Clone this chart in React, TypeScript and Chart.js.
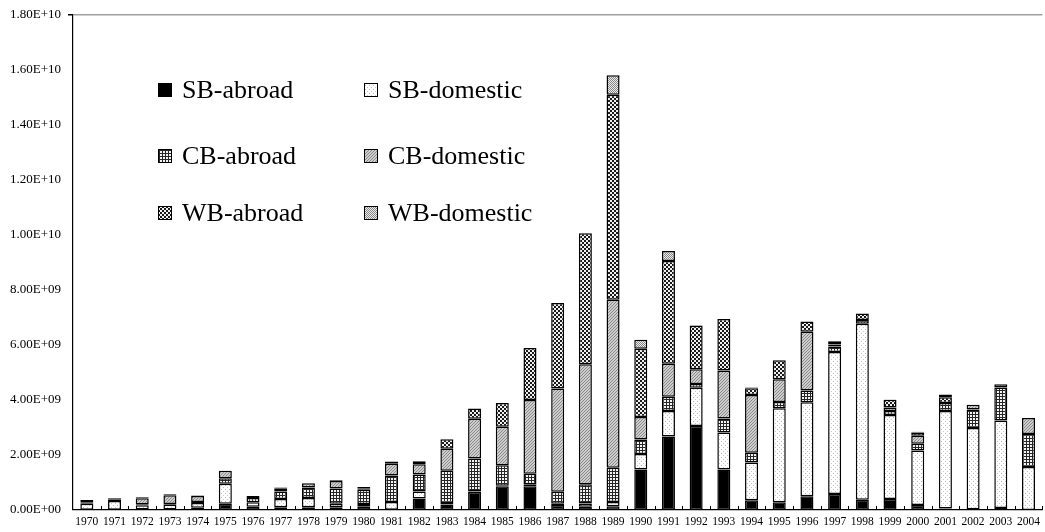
import React, { useEffect, useRef } from "react";
import { Chart, registerables } from "chart.js";
Chart.register(...registerables);

// Values in billions (1E+09)
const years = ["1970","1971","1972","1973","1974","1975","1976","1977","1978","1979","1980","1981","1982","1983","1984","1985","1986","1987","1988","1989","1990","1991","1992","1993","1994","1995","1996","1997","1998","1999","2000","2001","2002","2003","2004"];
const sbAbroad = [0.01,0.01,0.02,0.02,0.08,0.23,0.12,0.1,0.1,0.1,0.12,0.01,0.42,0.2,0.65,0.86,0.86,0.18,0.12,0.14,1.47,2.67,3.05,1.47,0.35,0.28,0.5,0.58,0.37,0.4,0.18,0.05,0.03,0.07,0];
const sbDomestic = [0.22,0.32,0.15,0.17,0.17,0.72,0.16,0.3,0.34,0.13,0.1,0.28,0.25,0.05,0.02,0.02,0.08,0.05,0.12,0.15,0.57,0.93,1.39,1.35,1.38,3.42,3.42,5.16,6.4,3.05,1.98,3.55,2.95,3.18,1.56];
const cbAbroad = [0.05,0.06,0.04,0.03,0.04,0.2,0.16,0.27,0.38,0.55,0.52,0.96,0.62,1.18,1.2,0.75,0.38,0.43,0.7,1.25,0.52,0.52,0.14,0.51,0.35,0.23,0.42,0.2,0.14,0.15,0.25,0.29,0.67,1.2,1.2];
const cbDomestic = [0.08,0.04,0.22,0.32,0.22,0.28,0.07,0.1,0.15,0.27,0.05,0.43,0.37,0.8,1.45,1.4,2.68,3.76,4.36,6.1,0.82,1.2,0.54,1.74,2.1,0.82,2.14,0.08,0,0.13,0.29,0,0.18,0.12,0.58];
const wbAbroad = [0,0,0.03,0.03,0.02,0,0,0.05,0,0.03,0.05,0.08,0.11,0.34,0.37,0.86,1.89,3.1,4.76,7.45,2.48,3.73,1.58,1.87,0.25,0.69,0.37,0.1,0.23,0.28,0.12,0.21,0,0,0];
const wbDomestic = [0,0,0,0,0,0,0,0,0,0,0,0,0,0,0,0,0,0,0,0.71,0.33,0.36,0.02,0,0.02,0,0,0.02,0,0.01,0.02,0.1,0,0,0];
const seriesLabels = ["SB-abroad","SB-domestic","CB-abroad","CB-domestic","WB-abroad","WB-domestic"];
const yMax = 18;
const yStep = 2;

function fmtSci(v: number): string {
  if (v === 0) return "0.00E+00";
  const s = v.toExponential(2).toUpperCase();
  const [m, e] = s.split("E");
  const sign = e[0] === "-" ? "-" : "+";
  const digits = e.replace(/[+-]/, "").padStart(2, "0");
  return `${m}E${sign}${digits}`;
}

function makePattern(kind: string): CanvasPattern | string {
  if (kind === "solid") return "#000000";
  const c = document.createElement("canvas");
  const g = c.getContext("2d")!;
  const px = (x: number, y: number, col: string) => { g.fillStyle = col; g.fillRect(x, y, 1, 1); };
  if (kind === "dots") {
    c.width = 4; c.height = 4;
    g.fillStyle = "#ffffff"; g.fillRect(0, 0, 4, 4);
    px(1, 1, "#b8b8b8"); px(3, 3, "#c8c8c8");
  } else if (kind === "grid") {
    c.width = 3; c.height = 3;
    g.fillStyle = "#f4f4f4"; g.fillRect(0, 0, 3, 3);
    g.fillStyle = "#262626"; g.fillRect(0, 0, 3, 1); g.fillRect(0, 0, 1, 3);
  } else if (kind === "diag") {
    c.width = 3; c.height = 3;
    g.fillStyle = "#cdcdcd"; g.fillRect(0, 0, 3, 3);
    for (let i = 0; i < 3; i++) px(i, 2 - i, "#8a8a8a");
  } else if (kind === "checkDark") {
    c.width = 4; c.height = 4;
    g.fillStyle = "#f0f0f0"; g.fillRect(0, 0, 4, 4);
    g.fillStyle = "#1a1a1a"; g.fillRect(0, 0, 2, 2); g.fillRect(2, 2, 2, 2);
  } else {
    c.width = 2; c.height = 2;
    g.fillStyle = "#ececec"; g.fillRect(0, 0, 2, 2);
    px(0, 0, "#868686"); px(1, 1, "#868686");
  }
  return g.createPattern(c, "repeat")!;
}

export default function App() {
  const ref = useRef<HTMLCanvasElement | null>(null);
  useEffect(() => {
    document.body.style.margin = "0";
    const kinds = ["solid", "dots", "grid", "diag", "checkDark", "checkLight"];
    const fills = kinds.map(makePattern);
    const series = [sbAbroad, sbDomestic, cbAbroad, cbDomestic, wbAbroad, wbDomestic];
    const datasets = series.map((arr, i) => ({
      label: seriesLabels[i],
      data: arr.map((v) => (v === 0 ? null : v)),
      backgroundColor: fills[i] as any,
      borderColor: "#000000",
      borderWidth: 1.5,
      borderSkipped: false as any,
      barPercentage: 0.47,
      categoryPercentage: 1,
    }));

    const legendPlugin = {
      id: "customLegend",
      afterDraw(chart: any) {
        const ctx = chart.ctx;
        ctx.save();
        const cols = [158, 364];
        const rows = [90, 156, 213];
        seriesLabels.forEach((lab, i) => {
          const x = cols[i % 2];
          const y = rows[Math.floor(i / 2)];
          ctx.fillStyle = fills[i];
          ctx.fillRect(x, y - 7, 14, 14);
          ctx.strokeStyle = "#000";
          ctx.lineWidth = 1;
          ctx.strokeRect(x + 0.5, y - 6.5, 13, 13);
          ctx.fillStyle = "#000";
          ctx.font = "26px 'Liberation Serif'";
          ctx.textBaseline = "middle";
          ctx.textAlign = "left";
          ctx.fillText(lab, x + 24, y + 1);
        });
        // inner x-axis tick marks between categories
        const xs = chart.scales.x;
        const area = chart.chartArea;
        const w = xs.getPixelForValue(1) - xs.getPixelForValue(0);
        ctx.strokeStyle = "#000";
        ctx.lineWidth = 1;
        ctx.beginPath();
        for (let i = 1; i <= years.length; i++) {
          const x = Math.round(xs.getPixelForValue(i - 1) + w / 2) + 0.5;
          ctx.moveTo(x, area.bottom);
          ctx.lineTo(x, area.bottom - 4);
        }
        ctx.stroke();
        ctx.restore();
      },
    };

    const chart = new Chart(ref.current!, {
      type: "bar",
      data: { labels: years, datasets },
      options: {
        animation: false,
        responsive: true,
        maintainAspectRatio: false,
        layout: { padding: { top: 14, right: 0, left: 0, bottom: 0 } },
        plugins: { legend: { display: false }, tooltip: { enabled: false } },
        scales: {
          x: {
            stacked: true,
            offset: true,
            grid: { display: false, drawTicks: false },
            border: { display: true, color: "#000", width: 1.2 },
            ticks: {
              color: "#000",
              font: { family: "'Liberation Serif'", size: 11.5 },
              maxRotation: 0,
              autoSkip: false,
              padding: 5,
            },
            afterFit: (s: any) => { s.height = 22; },
          },
          y: {
            stacked: true,
            min: 0,
            max: yMax,
            ticks: {
              stepSize: yStep,
              color: "#000",
              font: { family: "'Liberation Serif'", size: 13 },
              padding: 7,
              callback: (v: any) => fmtSci(Number(v) * 1e9),
            },
            grid: {
              drawOnChartArea: true,
              tickLength: 5,
              tickColor: "#000",
              color: (c: any) => (c.tick && c.tick.value === yMax ? "#a0a0a0" : "rgba(0,0,0,0)"),
              lineWidth: (c: any) => (c.tick && c.tick.value === yMax ? 1.5 : 0),
            },
            border: { display: true, color: "#000", width: 1.2 },
            afterFit: (s: any) => { s.width = 73; },
          },
        },
      },
      plugins: [legendPlugin],
    });
    return () => chart.destroy();
  }, []);
  return (
    <div style={{ position: "absolute", left: 0, top: 0, width: 1045, height: 532, background: "#fff" }}>
      <canvas ref={ref} />
    </div>
  );
}
